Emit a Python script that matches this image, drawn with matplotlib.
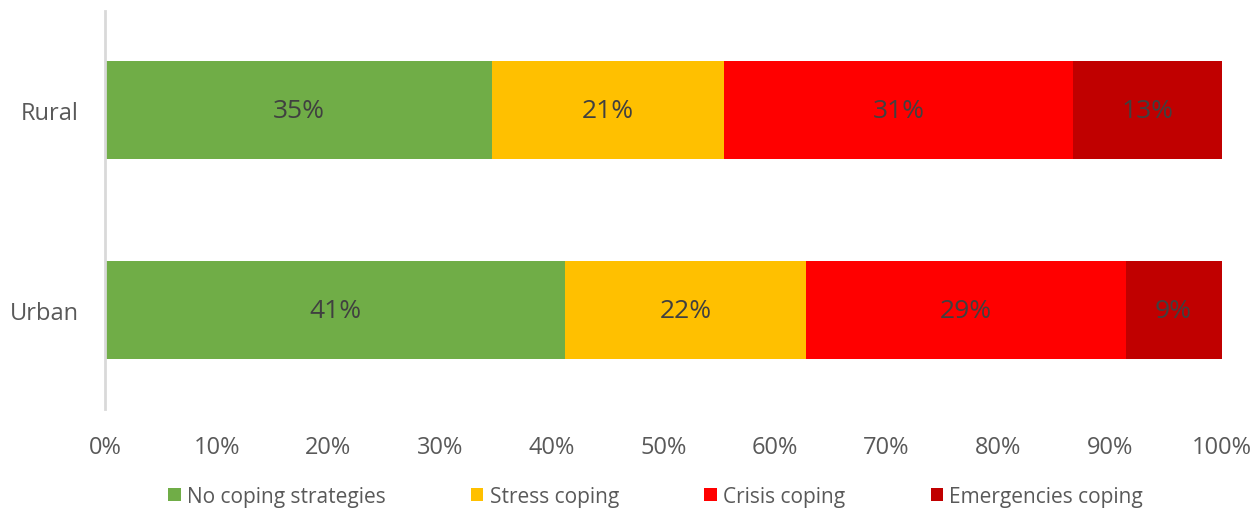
import matplotlib
matplotlib.use("Agg")
import matplotlib.pyplot as plt
from matplotlib.patches import Patch
import numpy as np

plt.rcParams['font.family'] = ['Open Sans', 'DejaVu Sans']

groups = ["Urban", "Rural"]
series = ["No coping strategies", "Stress coping", "Crisis coping", "Emergencies coping"]
colors = ["#70AD47", "#FFC000", "#FF0000", "#C00000"]
# shares in %, order: Urban, Rural
no_coping = [41.2, 34.7]
stress = [21.6, 20.7]
crisis = [28.6, 31.3]
emergency = [8.6, 13.3]
values = [no_coping, stress, crisis, emergency]

fig = plt.figure(figsize=(12.56, 5.10), dpi=100)
ax = fig.add_axes([0.0836, 0.196, 0.889, 0.78])

y = np.arange(len(groups))
left = np.zeros(len(groups))
for name, vals, col in zip(series, values, colors):
    vals = np.array(vals)
    bars = ax.barh(y, vals, left=left, height=0.49, color=col, label=name)
    for b, v in zip(bars, vals):
        ax.text(b.get_x() + b.get_width() / 2, b.get_y() + b.get_height() / 2,
                f"{round(v):d}%", ha="center", va="center", fontsize=19, color="#404040")
    left += vals

ax.set_xlim(0, 100)
ax.set_ylim(-0.495, 1.495)
ax.set_xticks(np.arange(0, 101, 10))
ax.set_xticklabels([f"{t}%" for t in range(0, 101, 10)])
ax.set_yticks(y)
ax.set_yticklabels(groups)
ax.tick_params(axis="both", length=0, labelsize=17, labelcolor="#595959")
ax.tick_params(axis="x", pad=19)
ax.tick_params(axis="y", pad=19)
for s in ["top", "right", "bottom"]:
    ax.spines[s].set_visible(False)
ax.spines["left"].set_color("#D9D9D9")
ax.spines["left"].set_linewidth(2)

handles = [Patch(facecolor=c, label=n) for n, c in zip(series, colors)]
fig.legend(handles=handles, loc="center", bbox_to_anchor=(0.522, 0.025), ncol=4,
           frameon=False, fontsize=15, labelcolor="#595959",
           handlelength=0.6, handleheight=0.6, handletextpad=0.3, columnspacing=4.1)

fig.savefig("out.png", dpi=100)
